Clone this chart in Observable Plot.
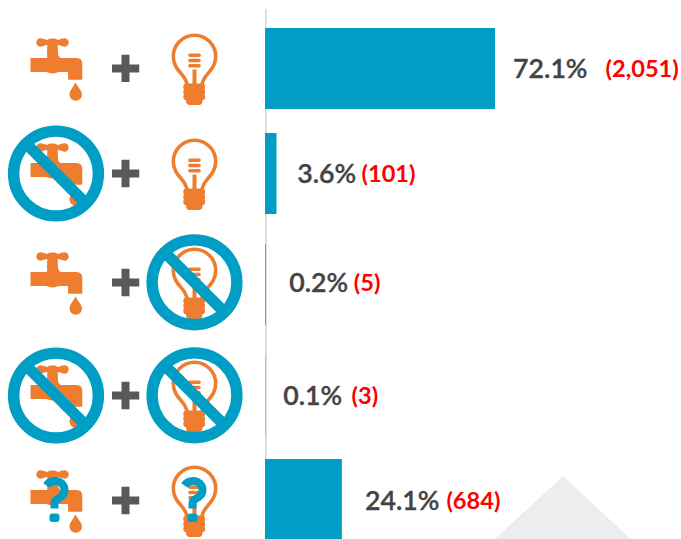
<!DOCTYPE html>
<html>
<head>
<meta charset="utf-8">
<script src="https://cdn.jsdelivr.net/npm/d3@7"></script>
<script src="https://cdn.jsdelivr.net/npm/@observablehq/plot@0.6"></script>
<style>html,body{margin:0;padding:0;background:#fff;overflow:hidden}svg{display:block}</style>
</head>
<body>
<div id="chart"></div>
<script>
// Data
const categories = ["water+power", "no water+power", "water+no power", "no water+no power", "unknown"];
const waterStatus = ["yes", "no", "yes", "no", "unknown"];
const powerStatus = ["yes", "yes", "no", "no", "unknown"];
const percents = [72.1, 3.6, 0.2, 0.1, 24.1];
const counts = [2051, 101, 5, 3, 684];

// Layout nudges, kept apart from the data
const barNudge = [0, -2.75, 0.5, 3.75, 0];
const rowNudge = [-0.5, -3.25, -2, 3.25, 0.5];
const pctGap = [17.6, 20.2, 23.1, 17.4, 22.6];
const countGap = [110, 84.5, 87.6, 85.7, 104];

const BLUE = "#009dc4", ORANGE = "#ef7d2f", GREY = "#58595b";

const rows = categories.map((cat, i) => ({cat, water: waterStatus[i], power: powerStatus[i], pct: percents[i], n: counts[i], i}));

// Pictograms
const tapArt = `<g fill="${ORANGE}">
<path d="M40 37.8C43 37.8 44 39.4 47 39.4C48.5 37.6 55.5 37.6 57 39.4C60 39.4 61 37.8 64 37.8A4.2 4.2 0 0 1 64 46.2C61 46.2 60 44.6 57.2 44.6L57.5 53C57.5 55 58.5 56 60 57.5H46C47.5 56 46.5 55 46.5 53L46.8 44.6C44 44.6 43 46.2 40 46.2A4.2 4.2 0 0 1 40 37.8Z"/>
<path d="M30 57.5H76Q81.8 57.5 81.8 63.5V78Q81.8 79.3 80.5 79.3H69Q67.5 79.3 67.5 78V71.5H58C55 73.4 49 73.4 46 71.5H30Z"/>
<path d="M75 82C72.5 87 69 90 69 94A6 6 0 0 0 81.5 94C81.5 90 77.5 87 75 82Z"/>
</g>`;
const bulbArt = `<g>
<path d="M186.5 85C186.5 74 172.8 71 172.8 56A21.2 21.2 0 1 1 215.2 56C215.2 71 201.5 74 201.5 85" fill="none" stroke="${ORANGE}" stroke-width="3.6"/>
<g fill="${ORANGE}">
<rect x="187.7" y="53" width="12.6" height="3.4" rx="1.6"/>
<rect x="187.7" y="58.3" width="12.6" height="3.4" rx="1.6"/>
<rect x="187.7" y="63.6" width="12.6" height="3.4" rx="1.6"/>
<rect x="192" y="69" width="4" height="16"/>
<rect x="182.8" y="83" width="21.8" height="6.8" rx="3.3"/>
<rect x="182.8" y="88" width="21.8" height="6.8" rx="3.3"/>
<rect x="182.8" y="93" width="21.8" height="6.8" rx="3.3"/>
<rect x="185.5" y="96" width="16.5" height="8.4" rx="4"/>
</g></g>`;
const question = `<path d="M46 53C48 50 51 48.5 54.5 48.5C60 48.5 64 52.5 64 58C64 63 60 65 57 66.5C54.5 67.8 54 69 54 71V76" fill="none" stroke="${BLUE}" stroke-width="8"/><rect x="49" y="81" width="10" height="8.5" rx="3" fill="${BLUE}"/>`;
const forbid = (cx, cy) => `<circle cx="${cx}" cy="${cy}" r="42.4" fill="none" stroke="${BLUE}" stroke-width="11.4"/><line x1="${cx - 30}" y1="${cy - 30}" x2="${cx + 30}" y2="${cy + 30}" stroke="${BLUE}" stroke-width="11.4"/>`;
const uri = (viewBox, body) => "data:image/svg+xml;charset=utf-8," + encodeURIComponent(`<svg xmlns="http://www.w3.org/2000/svg" viewBox="${viewBox}" width="110" height="110">${body}</svg>`);

const tapIcon = {
  yes: uri("0 13 110 110", tapArt),
  no: uri("0 13 110 110", tapArt + forbid(55.5, 68)),
  unknown: uri("0 13 110 110", tapArt + question)
};
const bulbIcon = {
  yes: uri("139 13 110 110", bulbArt),
  no: uri("139 13 110 110", bulbArt + forbid(194, 67.8)),
  unknown: uri("139 13 110 110", bulbArt + `<g transform="translate(138 0)">${question}</g>`)
};
const plusIcon = uri("0 0 28 28", `<path d="M10 0H18V10H28V18H18V28H10V18H0V10H10Z" fill="${GREY}"/>`);
const peak = "data:image/svg+xml;charset=utf-8," + encodeURIComponent(`<svg xmlns="http://www.w3.org/2000/svg" viewBox="0 0 138 64" width="138" height="64" preserveAspectRatio="none"><path d="M0 64L69.3 0L138 64Z" fill="#eceeee"/></svg>`);

const fmtCount = d3.format(",");

const rowMarks = rows.flatMap((r) => [
  Plot.barX([r], {x: "pct", y: "cat", fill: BLUE, dy: barNudge[r.i]}),
  Plot.image([r], {x: () => 0, y: "cat", src: () => tapIcon[r.water], width: 110, height: 110, dx: -210, dy: rowNudge[r.i]}),
  Plot.image([r], {x: () => 0, y: "cat", src: () => plusIcon, width: 28, height: 28, dx: -140, dy: rowNudge[r.i]}),
  Plot.image([r], {x: () => 0, y: "cat", src: () => bulbIcon[r.power], width: 110, height: 110, dx: -71, dy: rowNudge[r.i]}),
  Plot.text([r], {x: "pct", y: "cat", text: (d) => `${d.pct}%`, textAnchor: "start", dx: pctGap[r.i], dy: rowNudge[r.i] + 0.8, fontFamily: "Lato", fontWeight: 600, fontSize: 26.7, fill: "#434343", stroke: "#434343", strokeWidth: 0.35}),
  Plot.text([r], {x: "pct", y: "cat", text: (d) => `(${fmtCount(d.n)})`, textAnchor: "start", dx: countGap[r.i], dy: rowNudge[r.i] + 0.8, fontFamily: "Lato", fontWeight: 700, fontSize: 23.6, fill: "#ff0000"})
]);

const chart = Plot.plot({
  width: 681,
  height: 539,
  marginLeft: 265,
  marginRight: 0,
  marginTop: 9,
  marginBottom: 80,
  x: {domain: [0, 130.4], axis: null},
  y: {domain: categories, range: [28, 540], paddingInner: 0.2483, paddingOuter: 0, round: false, axis: null},
  marks: [
    Plot.image(rows.slice(4), {x: () => 0, y: "cat", src: () => peak, width: 138, height: 64, dx: 297.2, dy: 8, preserveAspectRatio: "none"}),
    Plot.ruleX([0], {stroke: "#bdbdbd", strokeWidth: 1, dx: 0.5}),
    ...rowMarks
  ]
});
document.getElementById("chart").append(chart);
</script>
</body>
</html>
